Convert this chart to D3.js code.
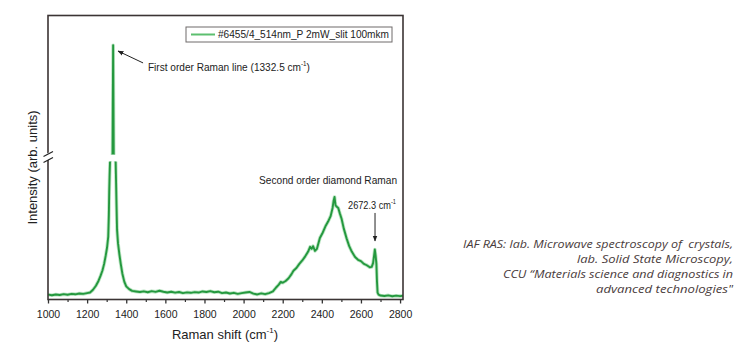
<!DOCTYPE html>
<html><head><meta charset="utf-8">
<script src="https://cdn.jsdelivr.net/npm/d3@7"></script>
<style>html,body{margin:0;padding:0;background:#fff;} svg{display:block;}</style>
</head><body>
<svg id="c" width="744" height="360"></svg>
<script>
// ---- data ----
const ramanShift = [1000,1020,1040,1060,1080,1100,1120,1140,1160,1180,1200,1215,1230,1245,1258,1268,1278,1287,1295,1302,1308,1311,1313,1315,1317,1330,1333,1336,1346,1348,1350,1353,1358,1365,1372,1380,1390,1400,1415,1430,1450,1470,1490,1510,1530,1550,1570,1590,1610,1630,1650,1670,1690,1710,1730,1750,1770,1790,1810,1830,1850,1870,1890,1910,1930,1950,1970,1990,2010,2030,2050,2070,2090,2110,2130,2150,2165,2180,2190,2200,2215,2230,2245,2255,2270,2285,2300,2315,2330,2340,2348,2355,2365,2375,2390,2405,2420,2432,2445,2455,2460,2465,2470,2475,2484,2492,2501,2512,2527,2540,2553,2570,2585,2600,2615,2630,2645,2655,2662,2668,2671,2675,2679,2682,2685,2690,2700,2720,2740,2760,2780,2800,2815];
const intensity  = [2.5,2.0,2.6,2.2,2.8,2.4,3.0,2.7,3.3,3.0,3.6,4.0,6.0,9.0,12.5,16.0,20.0,25.0,31.0,37.0,45.0,60.0,78.0,90.0,99.5,106,590,106,99.5,85,70,50,40,32,25,18,12,8.5,6.5,5.2,4.8,4.4,4.9,4.2,5.0,4.5,5.3,4.6,4.0,4.6,3.9,4.4,3.6,4.1,3.8,4.3,4.0,4.8,4.4,5.0,4.2,4.6,3.6,4.0,3.3,3.8,3.0,3.6,4.0,4.4,3.2,2.6,3.4,2.8,3.6,4.8,7.5,9.8,11.8,11.2,12.5,14.5,17.5,20.0,22.0,25.0,27.5,30.5,34.0,37.5,36.0,38.0,34.5,36.0,44.0,48.0,53.0,56.0,60.0,66.0,71.0,74.0,68.0,67.0,66.0,62.0,58.0,51.0,43.5,38.0,34.0,30.0,28.0,27.0,25.0,24.0,22.5,22.8,25.5,32.0,35.5,31.0,25.0,12.0,4.0,2.5,1.8,1.5,1.9,1.3,1.7,1.4,1.6];
const xMajorTicks = [1000,1200,1400,1600,1800,2000,2200,2400,2600,2800];
const xMinorTicks = [1100,1300,1500,1700,1900,2100,2300,2500,2700];
const legendLabel = "#6455/4_514nm_P 2mW_slit 100mkm";
const creditLines = [
  "IAF RAS: lab. Microwave spectroscopy of  crystals,",
  "lab. Solid State Microscopy,",
  "CCU \u201CMaterials science and diagnostics in",
  "advanced technologies\""
];
const creditWidths = [270, 156, 230, 137];

// ---- layout ----
const svg = d3.select("#c");
const P = {left:48, right:403, top:15.5, bottom:299.5};
const green = "#24983e";
const ink = "#222";

const x = d3.scaleLinear().domain([1000, 2815]).range([P.left, P.right]);
// broken y axis: lower part 0..100, upper part 102..600
const y = d3.scaleLinear().domain([0, 100, 102, 600]).range([298, 161.5, 154.5, 43]);

svg.append("rect").attr("width",744).attr("height",360).attr("fill","#fff");

const defs = svg.append("defs");
defs.append("clipPath").attr("id","lo").append("rect")
  .attr("x",P.left).attr("y",y(100)).attr("width",P.right-P.left).attr("height",P.bottom-y(100));
defs.append("clipPath").attr("id","hi").append("rect")
  .attr("x",P.left).attr("y",P.top).attr("width",P.right-P.left).attr("height",y(102)-P.top);
defs.append("marker").attr("id","ah").attr("viewBox","0 0 10 10").attr("refX",9).attr("refY",5)
  .attr("markerWidth",6).attr("markerHeight",6).attr("orient","auto-start-reverse")
  .attr("markerUnits","userSpaceOnUse")
  .append("path").attr("d","M0,1 L10,5 L0,9 Z").attr("fill",ink);

const pts = d3.zip(ramanShift, intensity);
const line = d3.line().x(d=>x(d[0])).y(d=>y(d[1]));
["lo","hi"].forEach(id=>{
  const g = svg.append("g").attr("clip-path",`url(#${id})`);
  g.append("path").attr("d",line(pts)).attr("fill","none")
    .attr("stroke","#8fd49c").attr("stroke-width",3.6).attr("stroke-opacity",0.6).attr("stroke-linejoin","round");
  g.append("path").attr("d",line(pts)).attr("fill","none")
    .attr("stroke",green).attr("stroke-width",1.9).attr("stroke-linejoin","round");
});

// frame
svg.append("rect").attr("x",P.left).attr("y",P.top).attr("width",P.right-P.left).attr("height",P.bottom-P.top)
  .attr("fill","none").attr("stroke","#3b3434").attr("stroke-width",1.6);

// axis break marks on y axis
const bg = svg.append("g");
bg.append("polygon").attr("points",`${P.left-5},${155.5} ${P.left+5},${150.5} ${P.left+5},${157.5} ${P.left-5},${162.5}`).attr("fill","#fff");
[154, 160].forEach(c=>{
  bg.append("line").attr("x1",P.left-4.5).attr("y1",c+2.5).attr("x2",P.left+5).attr("y2",c-2.5)
    .attr("stroke",ink).attr("stroke-width",1.2);
});

// x axis
const axMaj = svg.append("g").attr("transform",`translate(0,${P.bottom})`)
  .call(d3.axisBottom(x).tickValues(xMajorTicks).tickSize(4).tickPadding(7).tickFormat(d3.format("d")));
axMaj.select(".domain").remove();
axMaj.selectAll("line").attr("stroke","#333").attr("stroke-width",1.3);
axMaj.selectAll("text").attr("font-family","'Liberation Sans', Arial, sans-serif").attr("font-size","10.5px").attr("fill",ink);
const axMin = svg.append("g").attr("transform",`translate(0,${P.bottom})`)
  .call(d3.axisBottom(x).tickValues(xMinorTicks).tickSize(2.5).tickFormat(""));
axMin.select(".domain").remove();
axMin.selectAll("line").attr("stroke","#333").attr("stroke-width",1.2);

const F = "'Liberation Sans', Arial, sans-serif";
function supText(g, px, py, pre, sup, post, size, anchor, len){
  const t = g.append("text").attr("x",px).attr("y",py).attr("font-family",F).attr("font-size",size+"px")
    .attr("fill",ink).attr("text-anchor",anchor||"start");
  if (len) t.attr("textLength",len).attr("lengthAdjust","spacingAndGlyphs");
  t.append("tspan").text(pre);
  t.append("tspan").attr("dy",-size*0.45).attr("font-size",(size*0.62)+"px").text(sup);
  if (post) t.append("tspan").attr("dy",size*0.45).text(post);
  return t;
}

// axis titles
supText(svg, 225, 338.5, "Raman shift (cm", "-1", ")", 13, "middle");
svg.append("text").attr("transform","translate(37,167.5) rotate(-90)").attr("text-anchor","middle")
  .attr("font-family",F).attr("font-size","13px").attr("fill",ink).text("Intensity (arb. units)");

// legend
const lg = svg.append("g");
lg.append("rect").attr("x",186).attr("y",27).attr("width",206).attr("height",15)
  .attr("fill","#fff").attr("stroke","#6f6a6a").attr("stroke-width",1);
lg.append("line").attr("x1",191).attr("x2",215).attr("y1",34.5).attr("y2",34.5).attr("stroke","#5cbf6f").attr("stroke-width",2);
lg.append("text").attr("x",218).attr("y",38.3).attr("font-family",F).attr("font-size","10.5px").attr("fill",ink)
  .attr("textLength",171).attr("lengthAdjust","spacingAndGlyphs").text(legendLabel);

// annotations
svg.append("line").attr("x1",x(1486)).attr("y1",y(511)).attr("x2",x(1358)).attr("y2",y(564))
  .attr("stroke",ink).attr("stroke-width",1).attr("marker-end","url(#ah)");
supText(svg, x(1511), y(475), "First order Raman line (1332.5 cm", "-1", ")", 11, "start", 162);
svg.append("text").attr("x",x(2079)).attr("y",y(83.5)).attr("font-family",F).attr("font-size","11px").attr("fill",ink)
  .attr("textLength",138).attr("lengthAdjust","spacingAndGlyphs").text("Second order diamond Raman");
supText(svg, x(2534), y(65.2), "2672.3 cm", "-1", "", 11, "start", 48);
svg.append("line").attr("x1",x(2672)).attr("y1",y(62.3)).attr("x2",x(2672)).attr("y2",y(41.8))
  .attr("stroke",ink).attr("stroke-width",1).attr("marker-end","url(#ah)");

// credits
const cr = svg.append("g");
creditLines.forEach((s,i)=>{
  cr.append("text").attr("x",733).attr("y",248+i*15).attr("text-anchor","end")
    .attr("font-family","'Open Sans', Lato, sans-serif").attr("font-style","italic").attr("font-size","11.5px")
    .attr("fill","#4a3c3c").style("white-space","pre")
    .attr("textLength",creditWidths[i]).attr("lengthAdjust","spacingAndGlyphs").text(s);
});
</script>
</body></html>
